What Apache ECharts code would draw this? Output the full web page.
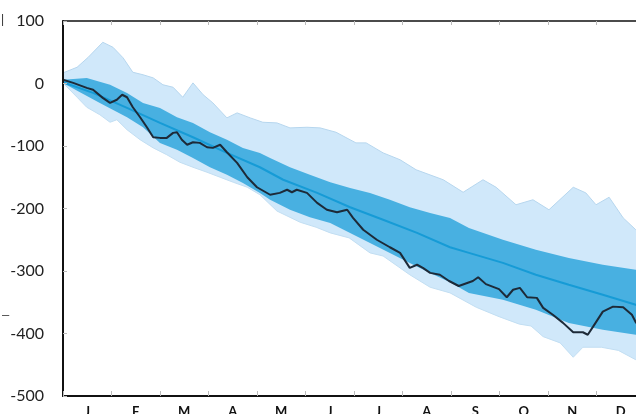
<!DOCTYPE html>
<html lang="en">
<head>
    <meta charset="UTF-8">
    <title>Cumulative anomaly</title>
    <script src="https://cdn.jsdelivr.net/npm/echarts@6/dist/echarts.min.js"></script>
    <style>
        html, body { margin: 0; padding: 0; background: #fff; }
        #main { width: 636px; height: 414px; }
    </style>
</head>
<body>
    <div id="main"></div>
    <script>
        // x is in months (0 = 1 Jan, 12 = 31 Dec)
        var months = ['J', 'F', 'M', 'A', 'M', 'J', 'J', 'A', 'S', 'O', 'N', 'D'];
        var yTicks = [100, 0, -100, -200, -300, -400, -500];

        var lightUpper = [
            [0, 17], [0.29, 26], [0.52, 42], [0.82, 66], [1.03, 58], [1.24, 41], [1.44, 18],
            [1.65, 14], [1.86, 9], [2.06, -2], [2.27, -6], [2.47, -22], [2.68, 1], [2.89, -18],
            [3.09, -31], [3.38, -55], [3.59, -47], [3.86, -55], [4.12, -62], [4.41, -63],
            [4.68, -71], [5.03, -70], [5.30, -71], [5.63, -78], [6.04, -95], [6.25, -95],
            [6.60, -111], [6.95, -122], [7.28, -138], [7.84, -154], [8.25, -174], [8.66, -154],
            [8.93, -166], [9.34, -194], [9.69, -186], [10.02, -202], [10.52, -166], [10.78, -175],
            [10.99, -194], [11.26, -182], [11.55, -215], [11.81, -234], [12, -250]
        ];
        var lightLower = [
            [0, 1], [0.29, -22], [0.49, -38], [0.76, -50], [0.97, -62], [1.11, -58], [1.32, -74],
            [1.59, -90], [1.86, -103], [2.14, -114], [2.41, -126], [2.68, -134], [2.97, -142],
            [3.24, -150], [3.51, -158], [3.80, -166], [4.06, -178], [4.41, -204], [4.89, -222],
            [5.22, -230], [5.51, -239], [5.90, -247], [6.33, -271], [6.60, -276], [7.15, -306],
            [7.57, -326], [7.98, -335], [8.52, -358], [8.99, -373], [9.41, -385], [9.65, -388],
            [9.90, -405], [10.25, -415], [10.52, -438], [10.72, -422], [11.10, -422],
            [11.45, -427], [11.81, -442], [12, -452]
        ];
        var darkUpper = [
            [0, 6], [0.49, 9], [0.97, -2], [1.32, -15], [1.65, -31], [2.0, -39], [2.35, -54],
            [2.68, -63], [3.03, -78], [3.38, -90], [3.71, -103], [4.06, -111], [4.27, -119],
            [4.68, -134], [5.09, -146], [5.51, -158], [5.92, -167], [6.33, -175], [6.74, -186],
            [7.15, -198], [7.57, -207], [7.98, -215], [8.37, -231], [9.07, -250], [9.75, -266],
            [10.43, -279], [11.13, -290], [11.81, -298], [12, -302]
        ];
        var darkLower = [
            [0, 1], [0.35, -14], [0.76, -31], [1.32, -54], [1.65, -70], [2.0, -95], [2.35, -106],
            [2.68, -119], [3.03, -134], [3.38, -146], [3.71, -159], [4.06, -175], [4.27, -186],
            [4.68, -202], [5.09, -214], [5.51, -223], [5.92, -239], [6.33, -255], [6.74, -271],
            [7.15, -287], [7.57, -303], [7.98, -318], [8.37, -335], [9.07, -346], [9.75, -362],
            [10.43, -383], [11.13, -394], [11.81, -402], [12, -407]
        ];
        var meanLine = [
            [0, 2], [0.62, -15], [1.32, -39], [2.0, -63], [2.68, -86], [3.38, -111], [4.06, -134],
            [4.54, -154], [5.24, -175], [5.92, -198], [6.60, -218], [7.30, -239], [7.98, -262],
            [8.37, -271], [9.07, -287], [9.75, -306], [10.43, -322], [11.13, -338], [11.81, -354],
            [12, -359]
        ];
        var observed = [
            [0, 6], [0.21, 1], [0.49, -7], [0.62, -10], [0.82, -23], [0.97, -31], [1.11, -26],
            [1.22, -18], [1.32, -22], [1.44, -38], [1.59, -54], [1.73, -70], [1.86, -86],
            [2.0, -87], [2.14, -87], [2.27, -79], [2.35, -78], [2.45, -90], [2.56, -98],
            [2.68, -94], [2.82, -95], [2.97, -102], [3.09, -103], [3.24, -98], [3.38, -110],
            [3.59, -127], [3.80, -150], [4.0, -166], [4.27, -178], [4.47, -175], [4.62, -170],
            [4.72, -174], [4.82, -170], [5.03, -175], [5.24, -191], [5.44, -202], [5.65, -206],
            [5.86, -202], [5.98, -215], [6.19, -234], [6.47, -250], [6.74, -262], [6.95, -271],
            [7.15, -295], [7.30, -290], [7.42, -295], [7.57, -303], [7.77, -306], [7.96, -316],
            [8.16, -324], [8.45, -316], [8.56, -310], [8.72, -321], [8.99, -329], [9.15, -342],
            [9.28, -330], [9.42, -327], [9.57, -342], [9.77, -343], [9.90, -359], [10.10, -370],
            [10.31, -383], [10.52, -398], [10.72, -398], [10.82, -402], [10.93, -389],
            [11.13, -365], [11.34, -357], [11.55, -358], [11.73, -370], [11.81, -382], [12, -398]
        ];

        var lightFill = '#d0e8fa';
        var darkFill = '#48b0e1';

        function band(data, fill, edge) {
            return {
                type: 'line',
                data: data,
                symbol: 'none',
                smooth: false,
                lineStyle: { color: edge || fill, width: edge ? 1 : 0 },
                areaStyle: { color: fill, opacity: 1, origin: 'start' },
                silent: true
            };
        }

        var myChart = echarts.init(document.getElementById('main'));
        var option = {
            animation: false,
            backgroundColor: '#fff',
            grid: {
                left: 63, top: 21, width: 582, height: 375,
                containLabel: false, outerBoundsMode: 'none'
            },
            xAxis: [
                {
                    type: 'value', min: 0, max: 12, interval: 1, position: 'bottom', z: 10,
                    axisLine: { onZero: false, lineStyle: { color: '#111', width: 2 } },
                    axisTick: { inside: true, length: 5, lineStyle: { color: '#bbb' } },
                    axisLabel: { show: false },
                    splitLine: { show: false }
                },
                {
                    type: 'value', min: 0, max: 12, interval: 1, position: 'top', z: 10,
                    axisLine: { show: true, onZero: false, lineStyle: { color: '#111', width: 1.5 } },
                    axisTick: { inside: true, length: 4, lineStyle: { color: '#bbb' } },
                    axisLabel: { show: false },
                    splitLine: { show: false }
                },
                {
                    type: 'category', data: months, position: 'bottom', boundaryGap: true,
                    axisLine: { show: false, onZero: false },
                    axisTick: { show: false },
                    axisLabel: {
                        margin: 9, color: '#111', fontSize: 13, fontWeight: 'bold',
                        fontFamily: 'Lato'
                    }
                }
            ],
            yAxis: {
                type: 'value', min: -500, max: 100, interval: 100, z: 10,
                axisLine: { show: true, onZero: false, lineStyle: { color: '#111', width: 2 } },
                axisTick: { show: true, inside: true, length: 4, lineStyle: { color: '#bbb' } },
                axisLabel: { margin: 19, color: '#222', fontSize: 16, fontFamily: 'Lato' },
                splitLine: { show: false }
            },
            series: [
                band(lightUpper, lightFill, '#b6d6ee'),
                band(darkUpper, darkFill),
                band(darkLower, lightFill),
                band(lightLower, '#ffffff', '#c2def2'),
                {
                    type: 'line', data: meanLine, symbol: 'none',
                    lineStyle: { color: '#169bd6', width: 2 }
                },
                {
                    type: 'line', data: observed, symbol: 'none',
                    lineStyle: { color: '#1d2a38', width: 2 }
                }
            ],
            graphic: [
                { type: 'text', left: 1, top: 14, style: { text: '|', fontSize: 12, fill: '#333' } },
                { type: 'text', left: 2, top: 309, style: { text: '–', fontSize: 13, fill: '#444' } }
            ]
        };
        myChart.setOption(option);
    </script>
</body>
</html>
